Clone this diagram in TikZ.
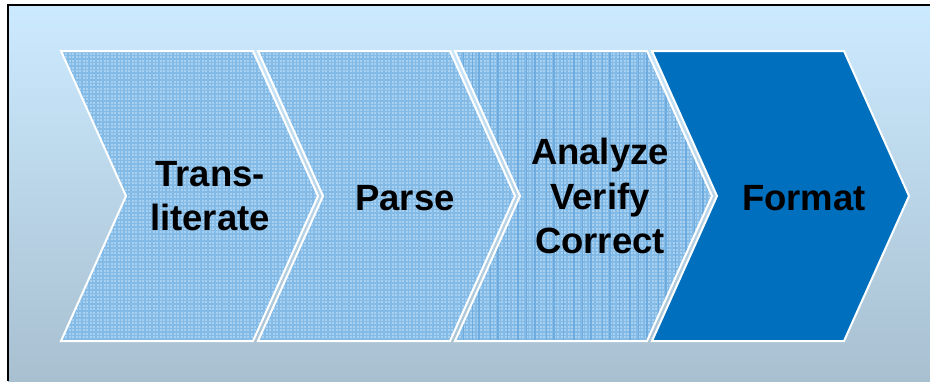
\documentclass[tikz,border=0pt]{standalone}
\usepackage{fontspec}
\setmainfont{Liberation Sans}
\definecolor{bgtop}{HTML}{CCEAFF}
\definecolor{bgbot}{HTML}{A8C0D0}
\definecolor{patbase}{HTML}{A8D1F1}
\definecolor{patline}{HTML}{84BBE6}
\definecolor{patdark}{HTML}{6EABDE}
\definecolor{darkchev}{HTML}{006FBE}
\newcommand\chevpath[1]{(#1,51) -- ++(192,0) -- ++(65,145) -- ++(-65,145) -- ++(-192,0) -- ++(65,-145) -- cycle}
\tikzset{
  lbl/.style={font=\fontsize{36.5}{44.5}\selectfont\bfseries, align=center, text=black, inner sep=0pt},
  chevedge/.style={draw=white, line width=2pt, line join=miter},
  gridline/.style={draw=patline, line width=1.1pt}
}
\begin{document}
\begin{tikzpicture}[x=1pt,y=-1pt]
\useasboundingbox (0,0) rectangle (930,381);
\fill[white] (0,0) rectangle (930,381);
\shade[top color=bgtop,bottom color=bgbot] (8,5) rectangle (930,381);
\draw[black,line width=2pt] (8,381) -- (8,5) -- (930,5);
% patterned chevrons
\foreach \L in {61,258,455}{
  \begin{scope}
    \clip \chevpath{\L};
    \fill[patbase] (\L-5,45) rectangle (\L+265,350);
    \foreach \x in {0,3.5,...,270}{\draw[gridline] (\L+\x,45) -- (\L+\x,350);}
    \foreach \y in {0,3.5,...,300}{\draw[gridline] (\L-5,45+\y) -- (\L+265,45+\y);}
  \end{scope}
}
\begin{scope}
  \clip \chevpath{455};
  \foreach \x/\w in {8/1,17/0.8,24/1.2,35/0.9,43/1.1,52/0.8,63/1.2,71/0.9,80/1.1,91/0.8,99/1.2,108/0.9,119/1.1,127/0.8,136/1.2,147/0.9,155/1.1,164/0.8,175/1.2,183/0.9,192/1.1,203/0.8,211/1.2,220/0.9,231/1.1,239/0.8,248/1.2}
    {\draw[patdark,line width=\w pt] (455+\x,45) -- (455+\x,350);}
\end{scope}
\fill[darkchev] \chevpath{652};
\foreach \L in {61,258,455,652}{\draw[chevedge] \chevpath{\L};}
\node[lbl] (t1) at (210,196) {Trans-\\literate};
\node[lbl] (t2) at (405,198) {Parse};
\node[lbl] (t3) at (600,196) {Analyze\\Verify\\Correct};
\node[lbl] (t4) at (804,198) {Format};
\end{tikzpicture}
\end{document}
